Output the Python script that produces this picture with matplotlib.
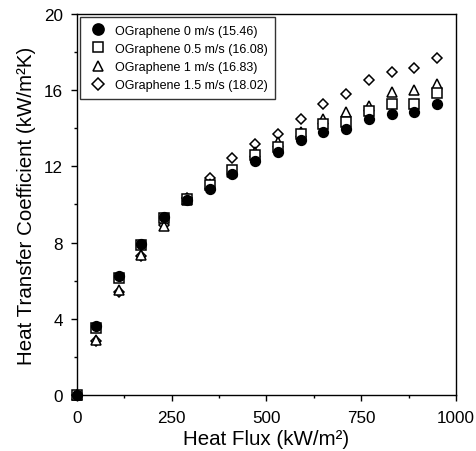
import matplotlib
matplotlib.use("Agg")
import matplotlib.pyplot as plt  # noqa: E402
from matplotlib.ticker import MultipleLocator  # noqa: E402

plt.rcParams["font.family"] = ["Liberation Sans", "DejaVu Sans"]

heat_flux = [0, 50, 110, 170, 230, 290, 350, 410, 470, 530, 590, 650, 710, 770, 830, 890, 950]
htc_0 = [0, 3.6, 6.22, 7.93, 9.34, 10.26, 10.83, 11.62, 12.3, 12.75, 13.37, 13.78, 13.98, 14.5, 14.77, 14.86, 15.3]
htc_05 = [0, 3.5, 6.15, 7.88, 9.28, 10.3, 11.0, 11.8, 12.6, 13.0, 13.7, 14.2, 14.33, 14.9, 15.25, 15.27, 15.85]
htc_1 = [0, 2.9, 5.5, 7.35, 8.85, 10.25, 11.1, 11.7, 12.75, 13.28, 13.8, 14.5, 14.86, 15.15, 15.9, 16.0, 16.3]
htc_15 = [0, 2.85, 5.4, 7.28, 8.9, 10.35, 11.4, 12.46, 13.16, 13.69, 14.5, 15.26, 15.79, 16.55, 16.93, 17.18, 17.67]

labels = ["OGraphene 0 m/s (15.46)", "OGraphene 0.5 m/s (16.08)",
          "OGraphene 1 m/s (16.83)", "OGraphene 1.5 m/s (18.02)"]

fig = plt.figure(figsize=(4.77, 4.52), dpi=100)
ax = fig.add_axes([0.1614, 0.1239, 0.7945, 0.843])

# filled circles sit on top of the open markers, as in the original
series = [(htc_0, "o", "black", 6), (htc_05, "s", "white", 5),
          (htc_1, "^", "white", 4), (htc_15, "D", "white", 3)]
sizes = {"o": 7, "s": 6.5, "^": 6.5, "D": 5.5}
for (y, m, fc, z), lab in zip(series, labels):
    ax.plot(heat_flux, y, ls="none", marker=m, ms=sizes[m], mfc=fc, mec="black",
            mew=1.1, label=lab, clip_on=False, zorder=z)

ax.set_xlim(0, 1000)
ax.set_ylim(0, 20)
ax.xaxis.set_major_locator(MultipleLocator(250))
ax.xaxis.set_minor_locator(MultipleLocator(125))
ax.yaxis.set_major_locator(MultipleLocator(4))
ax.yaxis.set_minor_locator(MultipleLocator(2))
ax.tick_params(which="major", direction="out", length=4.5, width=1, labelsize=12.3,
               top=False, right=False)
ax.tick_params(axis="x", which="major", pad=6)
ax.tick_params(axis="y", which="major", pad=5.5)
ax.tick_params(which="minor", direction="out", length=2.5, width=1, top=False, right=False)
for s in ax.spines.values():
    s.set_linewidth(1)

ax.set_xlabel("Heat Flux (kW/m²)", fontsize=14.8, labelpad=3)
ax.set_ylabel("Heat Transfer Coefficient (kW/m²K)", fontsize=14.8, labelpad=6)

leg = ax.legend(loc="upper left", fontsize=9, frameon=True, fancybox=False,
                edgecolor="black", borderaxespad=0.25, handletextpad=0.6,
                handlelength=1.6, labelspacing=0.5, borderpad=0.6, markerscale=1.15)
leg.get_frame().set_linewidth(1)
leg.set_zorder(10)

fig.savefig("out.png", dpi=100)
